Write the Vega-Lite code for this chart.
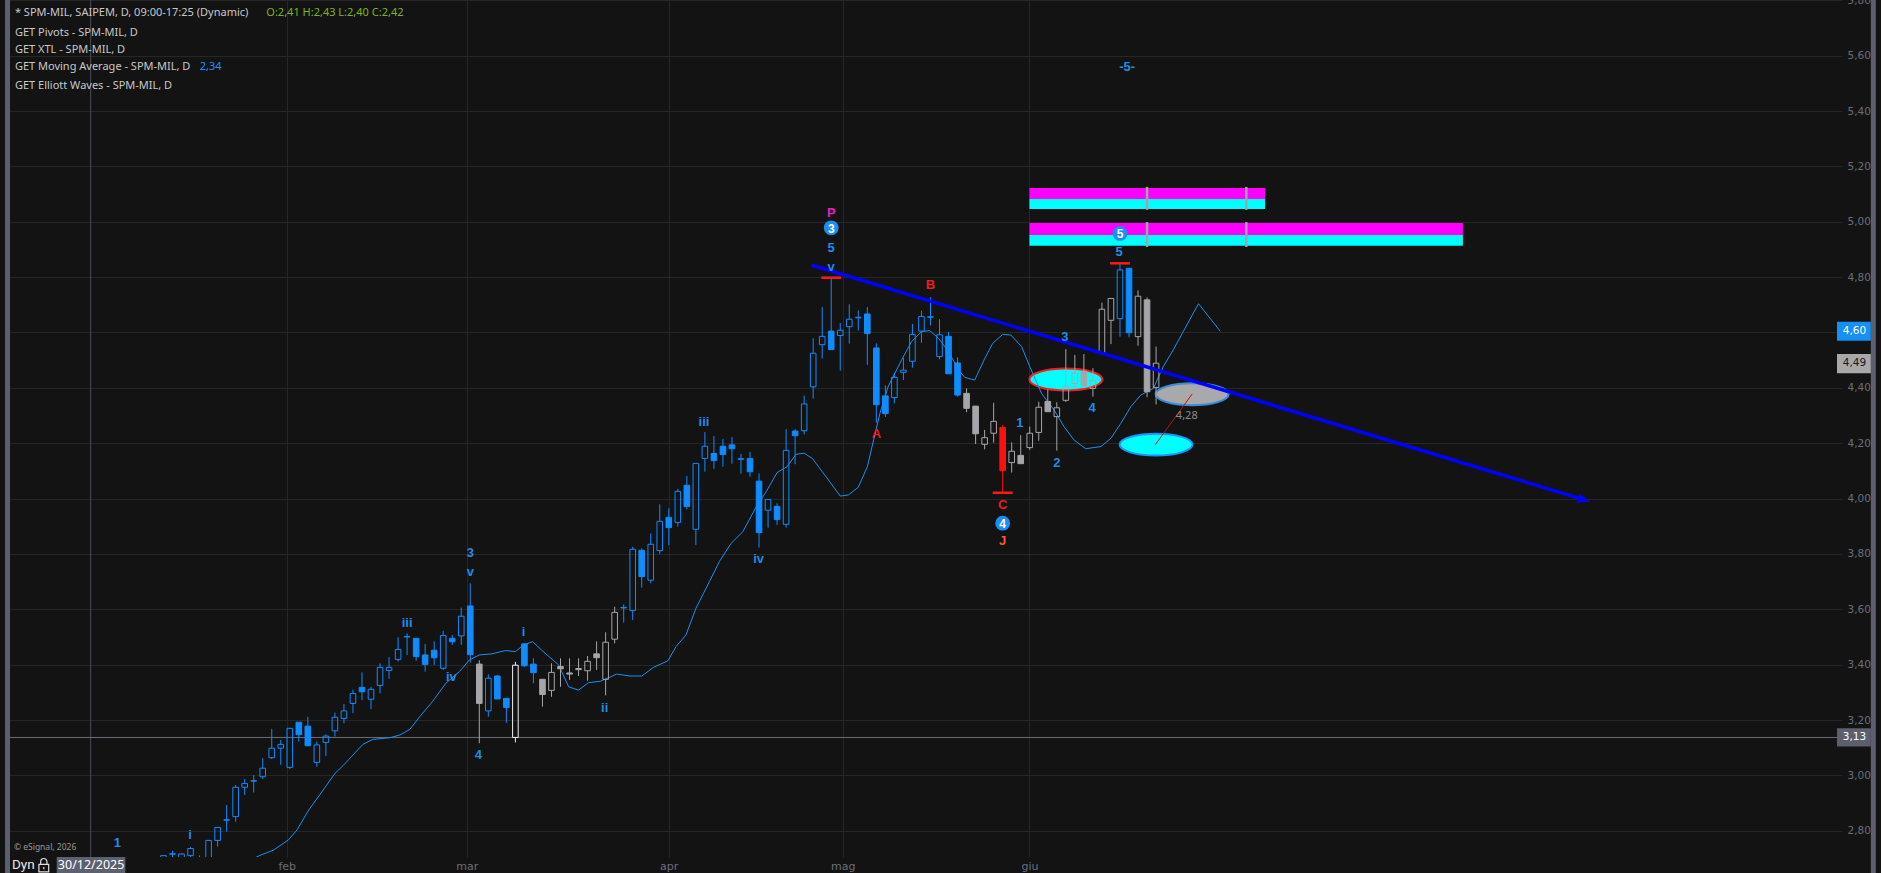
{
  "$schema": "https://vega.github.io/schema/vega-lite/v6.json",
  "width": 1837,
  "height": 857,
  "autosize": {"type": "none"},
  "padding": {"left": 5, "top": 0, "right": 39, "bottom": 16},
  "background": "#131313",
  "config": {"view": {"stroke": null}, "font": "Noto Sans"},
  "resolve": {"scale": {"color": "independent", "fill": "independent", "stroke": "independent"}},
  "datasets": {
    "candles": [
      {"i":0,"o":2.68,"h":2.712,"l":2.65,"c":2.71,"w":"impulse"},
      {"i":1,"o":2.715,"h":2.728,"l":2.68,"c":2.717,"w":"impulse"},
      {"i":2,"o":2.70,"h":2.718,"l":2.68,"c":2.716,"w":"impulse"},
      {"i":3,"o":2.71,"h":2.741,"l":2.69,"c":2.736,"w":"impulse"},
      {"i":4,"o":2.69,"h":2.711,"l":2.67,"c":2.70,"w":"impulse"},
      {"i":5,"o":2.69,"h":2.766,"l":2.68,"c":2.765,"w":"impulse"},
      {"i":6,"o":2.765,"h":2.813,"l":2.743,"c":2.812,"w":"impulse"},
      {"i":7,"o":2.838,"h":2.893,"l":2.797,"c":2.840,"w":"impulse"},
      {"i":8,"o":2.851,"h":2.965,"l":2.833,"c":2.957,"w":"impulse"},
      {"i":9,"o":2.957,"h":2.987,"l":2.929,"c":2.971,"w":"impulse"},
      {"i":10,"o":2.979,"h":3.001,"l":2.938,"c":2.981,"w":"impulse"},
      {"i":11,"o":2.995,"h":3.062,"l":2.987,"c":3.026,"w":"impulse"},
      {"i":12,"o":3.064,"h":3.168,"l":3.059,"c":3.098,"w":"impulse"},
      {"i":13,"o":3.098,"h":3.128,"l":3.038,"c":3.112,"w":"impulse"},
      {"i":14,"o":3.029,"h":3.170,"l":3.023,"c":3.170,"w":"impulse"},
      {"i":15,"o":3.192,"h":3.192,"l":3.122,"c":3.147,"w":"impulse"},
      {"i":16,"o":3.178,"h":3.211,"l":3.107,"c":3.107,"w":"impulse"},
      {"i":17,"o":3.047,"h":3.122,"l":3.031,"c":3.110,"w":"impulse"},
      {"i":18,"o":3.119,"h":3.148,"l":3.070,"c":3.142,"w":"impulse"},
      {"i":19,"o":3.161,"h":3.227,"l":3.140,"c":3.210,"w":"impulse"},
      {"i":20,"o":3.206,"h":3.258,"l":3.188,"c":3.233,"w":"impulse"},
      {"i":21,"o":3.260,"h":3.310,"l":3.225,"c":3.296,"w":"impulse"},
      {"i":22,"o":3.318,"h":3.372,"l":3.272,"c":3.302,"w":"impulse"},
      {"i":23,"o":3.275,"h":3.320,"l":3.239,"c":3.311,"w":"impulse"},
      {"i":24,"o":3.325,"h":3.405,"l":3.296,"c":3.390,"w":"impulse"},
      {"i":25,"o":3.379,"h":3.427,"l":3.349,"c":3.390,"w":"impulse"},
      {"i":26,"o":3.419,"h":3.499,"l":3.411,"c":3.455,"w":"impulse"},
      {"i":27,"o":3.500,"h":3.513,"l":3.435,"c":3.502,"w":"impulse"},
      {"i":28,"o":3.495,"h":3.495,"l":3.414,"c":3.429,"w":"impulse"},
      {"i":29,"o":3.435,"h":3.475,"l":3.375,"c":3.401,"w":"impulse"},
      {"i":30,"o":3.452,"h":3.484,"l":3.399,"c":3.425,"w":"impulse"},
      {"i":31,"o":3.387,"h":3.522,"l":3.381,"c":3.505,"w":"impulse"},
      {"i":32,"o":3.495,"h":3.507,"l":3.471,"c":3.483,"w":"impulse"},
      {"i":33,"o":3.504,"h":3.606,"l":3.471,"c":3.575,"w":"impulse"},
      {"i":34,"o":3.612,"h":3.694,"l":3.407,"c":3.436,"w":"impulse"},
      {"i":35,"o":3.402,"h":3.416,"l":3.116,"c":3.260,"w":"neutral"},
      {"i":36,"o":3.233,"h":3.365,"l":3.212,"c":3.351,"w":"impulse"},
      {"i":37,"o":3.359,"h":3.363,"l":3.276,"c":3.276,"w":"impulse"},
      {"i":38,"o":3.278,"h":3.278,"l":3.190,"c":3.245,"w":"impulse"},
      {"i":39,"o":3.137,"h":3.410,"l":3.119,"c":3.398,"w":"highlight"},
      {"i":40,"o":3.475,"h":3.478,"l":3.392,"c":3.396,"w":"impulse"},
      {"i":41,"o":3.402,"h":3.423,"l":3.333,"c":3.371,"w":"impulse"},
      {"i":42,"o":3.347,"h":3.347,"l":3.248,"c":3.292,"w":"neutral"},
      {"i":43,"o":3.307,"h":3.405,"l":3.284,"c":3.372,"w":"neutral"},
      {"i":44,"o":3.393,"h":3.423,"l":3.320,"c":3.385,"w":"neutral"},
      {"i":45,"o":3.370,"h":3.423,"l":3.345,"c":3.366,"w":"neutral"},
      {"i":46,"o":3.386,"h":3.423,"l":3.359,"c":3.382,"w":"neutral"},
      {"i":47,"o":3.378,"h":3.431,"l":3.342,"c":3.412,"w":"neutral"},
      {"i":48,"o":3.439,"h":3.484,"l":3.381,"c":3.425,"w":"neutral"},
      {"i":49,"o":3.347,"h":3.517,"l":3.289,"c":3.481,"w":"neutral"},
      {"i":50,"o":3.492,"h":3.609,"l":3.477,"c":3.589,"w":"neutral"},
      {"i":51,"o":3.605,"h":3.618,"l":3.552,"c":3.607,"w":"impulse"},
      {"i":52,"o":3.595,"h":3.825,"l":3.561,"c":3.817,"w":"impulse"},
      {"i":53,"o":3.813,"h":3.820,"l":3.678,"c":3.718,"w":"impulse"},
      {"i":54,"o":3.705,"h":3.874,"l":3.694,"c":3.835,"w":"impulse"},
      {"i":55,"o":3.812,"h":3.979,"l":3.800,"c":3.918,"w":"impulse"},
      {"i":56,"o":3.932,"h":3.965,"l":3.832,"c":3.895,"w":"impulse"},
      {"i":57,"o":3.914,"h":4.035,"l":3.899,"c":4.026,"w":"impulse"},
      {"i":58,"o":4.048,"h":4.082,"l":3.961,"c":3.971,"w":"impulse"},
      {"i":59,"o":3.889,"h":4.127,"l":3.832,"c":4.127,"w":"impulse"},
      {"i":60,"o":4.145,"h":4.240,"l":4.097,"c":4.189,"w":"impulse"},
      {"i":61,"o":4.163,"h":4.226,"l":4.107,"c":4.137,"w":"impulse"},
      {"i":62,"o":4.189,"h":4.215,"l":4.115,"c":4.159,"w":"impulse"},
      {"i":63,"o":4.194,"h":4.222,"l":4.126,"c":4.180,"w":"impulse"},
      {"i":64,"o":4.142,"h":4.161,"l":4.090,"c":4.144,"w":"impulse"},
      {"i":65,"o":4.145,"h":4.168,"l":4.079,"c":4.097,"w":"impulse"},
      {"i":66,"o":4.063,"h":4.091,"l":3.823,"c":3.877,"w":"impulse"},
      {"i":67,"o":3.958,"h":3.998,"l":3.895,"c":3.997,"w":"impulse"},
      {"i":68,"o":3.972,"h":3.983,"l":3.905,"c":3.924,"w":"impulse"},
      {"i":69,"o":3.907,"h":4.251,"l":3.895,"c":4.174,"w":"impulse"},
      {"i":70,"o":4.244,"h":4.251,"l":4.124,"c":4.227,"w":"impulse"},
      {"i":71,"o":4.245,"h":4.372,"l":4.232,"c":4.342,"w":"impulse"},
      {"i":72,"o":4.404,"h":4.579,"l":4.361,"c":4.525,"w":"impulse"},
      {"i":73,"o":4.556,"h":4.692,"l":4.506,"c":4.586,"w":"impulse"},
      {"i":74,"o":4.605,"h":4.798,"l":4.538,"c":4.538,"w":"impulse"},
      {"i":75,"o":4.589,"h":4.634,"l":4.462,"c":4.608,"w":"impulse"},
      {"i":76,"o":4.621,"h":4.702,"l":4.560,"c":4.648,"w":"impulse"},
      {"i":77,"o":4.653,"h":4.680,"l":4.607,"c":4.655,"w":"impulse"},
      {"i":78,"o":4.667,"h":4.692,"l":4.483,"c":4.596,"w":"impulse"},
      {"i":79,"o":4.544,"h":4.561,"l":4.274,"c":4.339,"w":"impulse"},
      {"i":80,"o":4.371,"h":4.409,"l":4.295,"c":4.307,"w":"impulse"},
      {"i":81,"o":4.365,"h":4.455,"l":4.344,"c":4.438,"w":"impulse"},
      {"i":82,"o":4.456,"h":4.509,"l":4.428,"c":4.464,"w":"impulse"},
      {"i":83,"o":4.496,"h":4.631,"l":4.473,"c":4.593,"w":"impulse"},
      {"i":84,"o":4.605,"h":4.679,"l":4.563,"c":4.658,"w":"impulse"},
      {"i":85,"o":4.655,"h":4.727,"l":4.626,"c":4.657,"w":"impulse"},
      {"i":86,"o":4.513,"h":4.648,"l":4.503,"c":4.592,"w":"impulse"},
      {"i":87,"o":4.586,"h":4.602,"l":4.451,"c":4.451,"w":"impulse"},
      {"i":88,"o":4.490,"h":4.510,"l":4.368,"c":4.374,"w":"impulse"},
      {"i":89,"o":4.380,"h":4.398,"l":4.312,"c":4.326,"w":"neutral"},
      {"i":90,"o":4.334,"h":4.334,"l":4.197,"c":4.234,"w":"neutral"},
      {"i":91,"o":4.196,"h":4.248,"l":4.178,"c":4.220,"w":"neutral"},
      {"i":92,"o":4.236,"h":4.346,"l":4.202,"c":4.279,"w":"neutral"},
      {"i":93,"o":4.257,"h":4.266,"l":4.021,"c":4.101,"w":"extreme"},
      {"i":94,"o":4.130,"h":4.203,"l":4.094,"c":4.171,"w":"neutral"},
      {"i":95,"o":4.156,"h":4.229,"l":4.126,"c":4.126,"w":"neutral"},
      {"i":96,"o":4.184,"h":4.260,"l":4.176,"c":4.236,"w":"neutral"},
      {"i":97,"o":4.239,"h":4.350,"l":4.209,"c":4.330,"w":"neutral"},
      {"i":98,"o":4.351,"h":4.395,"l":4.314,"c":4.314,"w":"neutral"},
      {"i":99,"o":4.296,"h":4.348,"l":4.173,"c":4.328,"w":"neutral"},
      {"i":100,"o":4.355,"h":4.540,"l":4.349,"c":4.405,"w":"neutral"},
      {"i":101,"o":4.416,"h":4.519,"l":4.395,"c":4.453,"w":"neutral"},
      {"i":102,"o":4.460,"h":4.522,"l":4.398,"c":4.408,"w":"neutral"},
      {"i":103,"o":4.398,"h":4.471,"l":4.368,"c":4.426,"w":"neutral"},
      {"i":104,"o":4.525,"h":4.708,"l":4.525,"c":4.684,"w":"neutral"},
      {"i":105,"o":4.644,"h":4.723,"l":4.558,"c":4.723,"w":"neutral"},
      {"i":106,"o":4.650,"h":4.850,"l":4.585,"c":4.826,"w":"impulse"},
      {"i":107,"o":4.832,"h":4.832,"l":4.583,"c":4.599,"w":"impulse"},
      {"i":108,"o":4.585,"h":4.752,"l":4.552,"c":4.731,"w":"neutral"},
      {"i":109,"o":4.718,"h":4.727,"l":4.366,"c":4.386,"w":"neutral"},
      {"i":110,"o":4.401,"h":4.549,"l":4.340,"c":4.489,"w":"neutral"}
    ],
    "ma": [
      {"i":10.0,"ma":2.700},{"i":10.7,"ma":2.711},{"i":12.2,"ma":2.730},{"i":13.85,"ma":2.767},
      {"i":14.8,"ma":2.803},{"i":16.1,"ma":2.875},{"i":17.3,"ma":2.929},{"i":19.0,"ma":3.007},
      {"i":19.9,"ma":3.035},{"i":20.5,"ma":3.056},{"i":22.1,"ma":3.112},{"i":23.2,"ma":3.130},
      {"i":25.1,"ma":3.136},{"i":26.2,"ma":3.146},{"i":27.3,"ma":3.166},{"i":28.4,"ma":3.212},
      {"i":29.8,"ma":3.266},{"i":31.3,"ma":3.333},{"i":32.8,"ma":3.375},{"i":33.9,"ma":3.417},
      {"i":35.0,"ma":3.435},{"i":36.4,"ma":3.439},{"i":37.9,"ma":3.451},{"i":39.0,"ma":3.447},
      {"i":39.9,"ma":3.471},{"i":40.9,"ma":3.483},{"i":42.3,"ma":3.441},{"i":43.8,"ma":3.399},
      {"i":44.9,"ma":3.320},{"i":46.0,"ma":3.308},{"i":47.1,"ma":3.335},{"i":48.4,"ma":3.340},
      {"i":49.5,"ma":3.355},{"i":50.2,"ma":3.366},{"i":51.7,"ma":3.359},{"i":53.0,"ma":3.359},
      {"i":54.3,"ma":3.390},{"i":55.9,"ma":3.414},{"i":56.8,"ma":3.465},{"i":57.9,"ma":3.507},
      {"i":59.0,"ma":3.603},{"i":60.5,"ma":3.700},{"i":61.6,"ma":3.772},{"i":62.9,"ma":3.838},
      {"i":64.2,"ma":3.880},{"i":65.7,"ma":3.971},{"i":66.8,"ma":4.025},{"i":68.0,"ma":4.094},
      {"i":69.1,"ma":4.115},{"i":70.1,"ma":4.160},{"i":71.0,"ma":4.164},{"i":71.9,"ma":4.145},
      {"i":72.6,"ma":4.115},{"i":73.7,"ma":4.067},{"i":75.0,"ma":4.009},{"i":75.9,"ma":4.013},
      {"i":77.0,"ma":4.041},{"i":78.0,"ma":4.115},{"i":78.7,"ma":4.212},{"i":79.4,"ma":4.308},
      {"i":80.3,"ma":4.404},{"i":81.8,"ma":4.501},{"i":82.9,"ma":4.567},{"i":84.0,"ma":4.603},
      {"i":84.9,"ma":4.607},{"i":85.9,"ma":4.579},{"i":87.0,"ma":4.531},{"i":88.1,"ma":4.465},
      {"i":88.8,"ma":4.438},{"i":89.9,"ma":4.428},{"i":91.0,"ma":4.505},{"i":91.9,"ma":4.561},
      {"i":93.0,"ma":4.593},{"i":93.9,"ma":4.591},{"i":95.1,"ma":4.549},{"i":96.0,"ma":4.477},
      {"i":97.3,"ma":4.380},{"i":98.7,"ma":4.320},{"i":99.8,"ma":4.260},{"i":100.9,"ma":4.212},
      {"i":102.2,"ma":4.180},{"i":103.9,"ma":4.188},{"i":105.0,"ma":4.218},{"i":106.1,"ma":4.272},
      {"i":107.2,"ma":4.332},{"i":108.3,"ma":4.374},{"i":109.7,"ma":4.398},{"i":110.8,"ma":4.477},
      {"i":111.9,"ma":4.537},{"i":114.7,"ma":4.704},{"i":117.1,"ma":4.605}
    ],
    "bands": [
      {"i1":95.97,"i2":122.08,"p1":5.082,"p2":5.122,"z":"upper"},
      {"i1":95.97,"i2":122.08,"p1":5.046,"p2":5.082,"z":"lower"},
      {"i1":95.97,"i2":144.0,"p1":4.952,"p2":4.996,"z":"upper"},
      {"i1":95.97,"i2":144.0,"p1":4.913,"p2":4.952,"z":"lower"}
    ],
    "bandmarks": [
      {"i":109.0,"p1":5.043,"p2":5.126},{"i":120.0,"p1":5.043,"p2":5.126},
      {"i":109.0,"p1":4.909,"p2":4.999},{"i":120.0,"p1":4.909,"p2":4.999}
    ],
    "ellipses": [
      {"i":100.0,"p":4.430,"k":"hit"},
      {"i":114.0,"p":4.377,"k":"now"},
      {"i":110.0,"p":4.195,"k":"proj"}
    ],
    "connector": [{"i":109.9,"p":4.194},{"i":114.0,"p":4.378}],
    "trend": [{"i":71.8,"p":4.844},{"i":157.6,"p":3.994}],
    "arrow": [{"i":157.4,"p":3.996}],
    "pivots": [
      {"i1":72.9,"i2":75.1,"p":4.798},
      {"i1":91.9,"i2":94.1,"p":4.021},
      {"i1":104.9,"i2":107.1,"p":4.850}
    ],
    "labels": [
      {"i":-5.1,"p":2.756,"t":"1","g":"wave"},
      {"i":2.96,"p":2.785,"t":"i","g":"wave"},
      {"i":27.0,"p":3.552,"t":"iii","g":"wave"},
      {"i":34.0,"p":3.804,"t":"3","g":"wave"},
      {"i":34.0,"p":3.736,"t":"v","g":"wave"},
      {"i":31.9,"p":3.354,"t":"iv","g":"wave"},
      {"i":34.9,"p":3.074,"t":"4","g":"wave"},
      {"i":39.9,"p":3.517,"t":"i","g":"wave"},
      {"i":48.9,"p":3.242,"t":"ii","g":"wave"},
      {"i":59.9,"p":4.278,"t":"iii","g":"wave"},
      {"i":65.95,"p":3.781,"t":"iv","g":"wave"},
      {"i":74.0,"p":5.030,"t":"P","g":"pivot"},
      {"i":74.0,"p":4.904,"t":"5","g":"wave"},
      {"i":74.0,"p":4.838,"t":"v","g":"wave"},
      {"i":79.0,"p":4.232,"t":"A","g":"abc"},
      {"i":85.0,"p":4.772,"t":"B","g":"abc"},
      {"i":93.0,"p":3.977,"t":"C","g":"abc"},
      {"i":93.0,"p":3.846,"t":"J","g":"cycle"},
      {"i":94.9,"p":4.272,"t":"1","g":"wave"},
      {"i":99.0,"p":4.128,"t":"2","g":"wave"},
      {"i":99.9,"p":4.583,"t":"3","g":"wave"},
      {"i":102.9,"p":4.326,"t":"4","g":"wave"},
      {"i":105.9,"p":4.892,"t":"5","g":"wave"},
      {"i":106.8,"p":5.559,"t":"-5-","g":"wave"}
    ],
    "circles": [
      {"i":74.0,"p":4.978,"t":"3"},
      {"i":93.0,"p":3.911,"t":"4"},
      {"i":106.0,"p":4.958,"t":"5"}
    ],
    "header": [
      {"i":-16.46,"p":5.753,"t":"* SPM-MIL, SAIPEM, D, 09:00-17:25 (Dynamic)","g":"info"},
      {"i":11.40,"p":5.753,"t":"O:2,41 H:2,43 L:2,40 C:2,42","g":"ohlc"},
      {"i":-16.46,"p":5.683,"t":"GET Pivots - SPM-MIL, D","g":"info"},
      {"i":-16.46,"p":5.621,"t":"GET XTL - SPM-MIL, D","g":"info"},
      {"i":-16.46,"p":5.558,"t":"GET Moving Average - SPM-MIL, D","g":"info"},
      {"i":4.01,"p":5.558,"t":"2,34","g":"ma"},
      {"i":-16.46,"p":5.491,"t":"GET Elliott Waves - SPM-MIL, D","g":"info"}
    ],
    "boxes": [
      {"p1":4.570,"p2":4.639,"p":4.604,"t":"4,60","g":"ma"},
      {"p1":4.453,"p2":4.522,"p":4.488,"t":"4,49","g":"last"},
      {"p1":3.104,"p2":3.170,"p":3.137,"t":"3,13","g":"ref"}
    ],
    "strips": [
      {"i1":-17.557,"i2":-17.007},
      {"i1":189.21,"i2":189.76}
    ]
  },
  "layer": [
    {
      "data": {"values": [{"i": -8.07}]},
      "mark": {"type": "rule", "color": "#4a4b55", "strokeWidth": 1},
      "encoding": {
        "x": {
          "field": "i", "type": "quantitative",
          "scale": {"domain": [-17.007, 185.46], "nice": false, "zero": false},
          "axis": {
            "values": [13.66, 33.62, 55.99, 75.28, 95.97],
            "labelExpr": "datum.value < 20 ? 'feb' : datum.value < 40 ? 'mar' : datum.value < 60 ? 'apr' : datum.value < 80 ? 'mag' : 'giu'",
            "grid": true, "gridColor": "#262626", "gridWidth": 1,
            "ticks": false, "domain": false, "title": null,
            "labelColor": "#6a6e7c", "labelFont": "DejaVu Sans", "labelFontSize": 11,
            "labelPadding": 3, "zindex": 0
          }
        }
      }
    },
    {
      "data": {"values": [{"p": 3.137}]},
      "mark": {"type": "rule", "color": "#6e6e74", "strokeWidth": 1},
      "encoding": {
        "y": {
          "field": "p", "type": "quantitative",
          "scale": {"domain": [2.7051, 5.8012], "nice": false, "zero": false},
          "axis": {
            "orient": "right",
            "values": [2.8, 3.0, 3.2, 3.4, 3.6, 3.8, 4.0, 4.2, 4.4, 4.6, 4.8, 5.0, 5.2, 5.4, 5.6, 5.8],
            "labelExpr": "datum.value == 4.6 ? '' : replace(format(datum.value, '.2f'), '.', ',')",
            "grid": true, "gridColor": "#262626", "gridWidth": 1,
            "ticks": false, "domain": false, "title": null,
            "labelColor": "#6a6e7c", "labelFont": "DejaVu Sans", "labelFontSize": 10.5,
            "labelPadding": 5, "zindex": 0
          }
        }
      }
    },
    {
      "data": {"name": "strips"},
      "mark": {"type": "rect", "color": "#5c5f6e", "clip": false},
      "encoding": {
        "x": {"field": "i1", "type": "quantitative"},
        "x2": {"field": "i2"},
        "y": {"datum": 2.6473, "type": "quantitative"},
        "y2": {"datum": 5.8012}
      }
    },
    {
      "data": {"name": "bands"},
      "mark": {"type": "rect"},
      "encoding": {
        "x": {"field": "i1", "type": "quantitative"},
        "x2": {"field": "i2"},
        "y": {"field": "p1", "type": "quantitative"},
        "y2": {"field": "p2"},
        "fill": {"field": "z", "type": "nominal", "scale": {"domain": ["upper", "lower"], "range": ["#ff00ff", "#00ffff"]}, "legend": null}
      }
    },
    {
      "data": {"name": "bandmarks"},
      "mark": {"type": "rule", "color": "#a4a4a8", "strokeWidth": 2.5},
      "encoding": {
        "x": {"field": "i", "type": "quantitative"},
        "y": {"field": "p1", "type": "quantitative"},
        "y2": {"field": "p2"}
      }
    },
    {
      "data": {"name": "ellipses"},
      "mark": {"type": "point", "filled": true, "shape": "M -1 0 A 1 0.3 0 1 0 1 0 A 1 0.3 0 1 0 -1 0 Z", "size": 5329, "strokeWidth": 2, "opacity": 1},
      "encoding": {
        "x": {"field": "i", "type": "quantitative"},
        "y": {"field": "p", "type": "quantitative"},
        "fill": {"field": "k", "type": "nominal", "scale": {"domain": ["hit", "now", "proj"], "range": ["#00ffff", "#a9a9ab", "#00ffff"]}, "legend": null},
        "stroke": {"field": "k", "type": "nominal", "scale": {"domain": ["hit", "now", "proj"], "range": ["#ff1a1a", "#3a8ad8", "#1e90ff"]}, "legend": null}
      }
    },
    {
      "data": {"name": "connector"},
      "mark": {"type": "line", "color": "#b3161c", "strokeWidth": 1},
      "encoding": {
        "x": {"field": "i", "type": "quantitative"},
        "y": {"field": "p", "type": "quantitative"}
      }
    },
    {
      "data": {"name": "ma"},
      "mark": {"type": "line", "color": "#1e8ff0", "strokeWidth": 1, "clip": true},
      "encoding": {
        "x": {"field": "i", "type": "quantitative"},
        "y": {"field": "ma", "type": "quantitative"}
      }
    },
    {
      "data": {"name": "candles"},
      "transform": [{"filter": "datum.c >= datum.o"}],
      "layer": [
        {
          "mark": {"type": "rule", "strokeWidth": 1, "clip": true},
          "encoding": {
            "x": {"field": "i", "type": "quantitative"},
            "y": {"field": "h", "type": "quantitative"},
            "y2": {"field": "c"},
            "color": {"field": "w", "type": "nominal", "scale": {"domain": ["impulse", "neutral", "extreme", "highlight"], "range": ["#0f8cff", "#a6a6aa", "#ff1010", "#f0f0f0"]}, "legend": null}
          }
        },
        {
          "mark": {"type": "rule", "strokeWidth": 1, "clip": true},
          "encoding": {
            "x": {"field": "i", "type": "quantitative"},
            "y": {"field": "o", "type": "quantitative"},
            "y2": {"field": "l"},
            "color": {"field": "w", "type": "nominal", "scale": {"domain": ["impulse", "neutral", "extreme", "highlight"], "range": ["#0f8cff", "#a6a6aa", "#ff1010", "#f0f0f0"]}, "legend": null}
          }
        }
      ]
    },
    {
      "data": {"name": "candles"},
      "transform": [{"filter": "datum.c < datum.o"}],
      "layer": [
        {
          "mark": {"type": "rule", "strokeWidth": 1, "clip": true},
          "encoding": {
            "x": {"field": "i", "type": "quantitative"},
            "y": {"field": "h", "type": "quantitative"},
            "y2": {"field": "o"},
            "color": {"field": "w", "type": "nominal", "scale": {"domain": ["impulse", "neutral", "extreme", "highlight"], "range": ["#0f8cff", "#a6a6aa", "#ff1010", "#f0f0f0"]}, "legend": null}
          }
        },
        {
          "mark": {"type": "rule", "strokeWidth": 1, "clip": true},
          "encoding": {
            "x": {"field": "i", "type": "quantitative"},
            "y": {"field": "c", "type": "quantitative"},
            "y2": {"field": "l"},
            "color": {"field": "w", "type": "nominal", "scale": {"domain": ["impulse", "neutral", "extreme", "highlight"], "range": ["#0f8cff", "#a6a6aa", "#ff1010", "#f0f0f0"]}, "legend": null}
          }
        }
      ]
    },
    {
      "data": {"name": "candles"},
      "mark": {"type": "bar", "width": 5.6, "strokeWidth": 1, "clip": true},
      "encoding": {
        "x": {"field": "i", "type": "quantitative"},
        "y": {"field": "o", "type": "quantitative"},
        "y2": {"field": "c"},
        "stroke": {"field": "w", "type": "nominal", "scale": {"domain": ["impulse", "neutral", "extreme", "highlight"], "range": ["#0f8cff", "#a6a6aa", "#ff1010", "#f0f0f0"]}, "legend": null},
        "fill": {
          "condition": {"test": "datum.c > datum.o", "value": "transparent"},
          "field": "w", "type": "nominal",
          "scale": {"domain": ["impulse", "neutral", "extreme", "highlight"], "range": ["#0f8cff", "#a6a6aa", "#ff1010", "#f0f0f0"]},
          "legend": null
        }
      }
    },
    {
      "data": {"name": "trend"},
      "mark": {"type": "line", "color": "#0000ff", "strokeWidth": 3.5},
      "encoding": {
        "x": {"field": "i", "type": "quantitative"},
        "y": {"field": "p", "type": "quantitative"}
      }
    },
    {
      "data": {"name": "arrow"},
      "mark": {"type": "point", "filled": true, "shape": "M -1 -0.75 L 1 0 L -1 0.75 L -0.55 0 Z", "size": 196, "angle": 16.8, "color": "#0000ff", "opacity": 1},
      "encoding": {
        "x": {"field": "i", "type": "quantitative"},
        "y": {"field": "p", "type": "quantitative"}
      }
    },
    {
      "data": {"name": "pivots"},
      "mark": {"type": "rule", "color": "#ff1a1a", "strokeWidth": 2.5},
      "encoding": {
        "x": {"field": "i1", "type": "quantitative"},
        "x2": {"field": "i2"},
        "y": {"field": "p", "type": "quantitative"}
      }
    },
    {
      "data": {"name": "circles"},
      "mark": {"type": "point", "filled": true, "shape": "circle", "size": 220, "color": "#1a8ef5", "opacity": 1},
      "encoding": {
        "x": {"field": "i", "type": "quantitative"},
        "y": {"field": "p", "type": "quantitative"}
      }
    },
    {
      "data": {"name": "circles"},
      "mark": {"type": "text", "font": "Liberation Sans", "fontSize": 12, "fontWeight": "bold", "color": "#ffffff", "align": "center", "baseline": "middle", "dy": 1},
      "encoding": {
        "x": {"field": "i", "type": "quantitative"},
        "y": {"field": "p", "type": "quantitative"},
        "text": {"field": "t", "type": "nominal"}
      }
    },
    {
      "data": {"name": "labels"},
      "mark": {"type": "text", "font": "Liberation Sans", "fontSize": 13, "fontWeight": "bold", "align": "center", "baseline": "middle"},
      "encoding": {
        "x": {"field": "i", "type": "quantitative"},
        "y": {"field": "p", "type": "quantitative"},
        "text": {"field": "t", "type": "nominal"},
        "color": {"field": "g", "type": "nominal", "scale": {"domain": ["wave", "abc", "pivot", "cycle"], "range": ["#1f8ce6", "#ee1c1c", "#e81ec8", "#ff5a1f"]}, "legend": null}
      }
    },
    {
      "data": {"values": [{"i": 113.4, "p": 4.297, "t": "4,28"}]},
      "mark": {"type": "text", "font": "Noto Sans", "fontSize": 11, "color": "#8c8c8c", "align": "center", "baseline": "middle"},
      "encoding": {
        "x": {"field": "i", "type": "quantitative"},
        "y": {"field": "p", "type": "quantitative"},
        "text": {"field": "t", "type": "nominal"}
      }
    },
    {
      "data": {"name": "header"},
      "mark": {"type": "text", "font": "Noto Sans", "fontSize": 11, "align": "left", "baseline": "middle"},
      "encoding": {
        "x": {"field": "i", "type": "quantitative"},
        "y": {"field": "p", "type": "quantitative"},
        "text": {"field": "t", "type": "nominal"},
        "color": {"field": "g", "type": "nominal", "scale": {"domain": ["info", "ohlc", "ma"], "range": ["#c8c8c8", "#7cb518", "#1e90ff"]}, "legend": null}
      }
    },
    {
      "data": {"name": "boxes"},
      "mark": {"type": "rect", "clip": false},
      "encoding": {
        "x": {"datum": 185.46, "type": "quantitative"},
        "x2": {"datum": 189.21},
        "y": {"field": "p1", "type": "quantitative"},
        "y2": {"field": "p2"},
        "fill": {"field": "g", "type": "nominal", "scale": {"domain": ["ma", "last", "ref"], "range": ["#1591f5", "#a8a8aa", "#5c5f6d"]}, "legend": null}
      }
    },
    {
      "data": {"name": "boxes"},
      "mark": {"type": "text", "font": "DejaVu Sans", "fontSize": 10.5, "align": "center", "baseline": "middle", "clip": false},
      "encoding": {
        "x": {"datum": 187.4, "type": "quantitative"},
        "y": {"field": "p", "type": "quantitative"},
        "text": {"field": "t", "type": "nominal"},
        "color": {"field": "g", "type": "nominal", "scale": {"domain": ["ma", "last", "ref"], "range": ["#ffffff", "#161616", "#ffffff"]}, "legend": null}
      }
    },
    {
      "data": {"values": [{"i1": -11.83, "i2": -4.22, "p1": 2.6473, "p2": 2.7051}]},
      "mark": {"type": "rect", "color": "#5d606e", "clip": false},
      "encoding": {
        "x": {"field": "i1", "type": "quantitative"},
        "x2": {"field": "i2"},
        "y": {"field": "p1", "type": "quantitative"},
        "y2": {"field": "p2"}
      }
    },
    {
      "data": {"values": [{"i": -8.02, "p": 2.675, "t": "30/12/2025"}]},
      "mark": {"type": "text", "font": "Noto Sans", "fontSize": 12.5, "color": "#ffffff", "align": "center", "baseline": "middle", "clip": false},
      "encoding": {
        "x": {"field": "i", "type": "quantitative"},
        "y": {"field": "p", "type": "quantitative"},
        "text": {"field": "t", "type": "nominal"}
      }
    },
    {
      "data": {"values": [{"i": -16.79, "p": 2.675, "t": "Dyn"}]},
      "mark": {"type": "text", "font": "Roboto", "fontSize": 13.5, "color": "#e8e8e8", "align": "left", "baseline": "middle", "clip": false},
      "encoding": {
        "x": {"field": "i", "type": "quantitative"},
        "y": {"field": "p", "type": "quantitative"},
        "text": {"field": "t", "type": "nominal"}
      }
    },
    {
      "data": {"values": [{"i": -13.26, "p": 2.677}]},
      "mark": {"type": "point", "filled": false, "shape": "M -0.7 -0.05 L 0.7 -0.05 L 0.7 1 L -0.7 1 Z M -0.45 -0.05 L -0.45 -0.45 A 0.45 0.45 0 0 1 0.45 -0.45 L 0.45 -0.05 M 0 0.3 L 0 0.65", "size": 196, "color": "#e0e0e0", "strokeWidth": 1.2, "opacity": 1, "clip": false},
      "encoding": {
        "x": {"field": "i", "type": "quantitative"},
        "y": {"field": "p", "type": "quantitative"}
      }
    },
    {
      "data": {"values": [{"i": -16.57, "p": 2.741, "t": "© eSignal, 2026"}]},
      "mark": {"type": "text", "font": "Noto Sans", "fontSize": 8.5, "color": "#9a9a9a", "align": "left", "baseline": "middle"},
      "encoding": {
        "x": {"field": "i", "type": "quantitative"},
        "y": {"field": "p", "type": "quantitative"},
        "text": {"field": "t", "type": "nominal"}
      }
    }
  ]
}
